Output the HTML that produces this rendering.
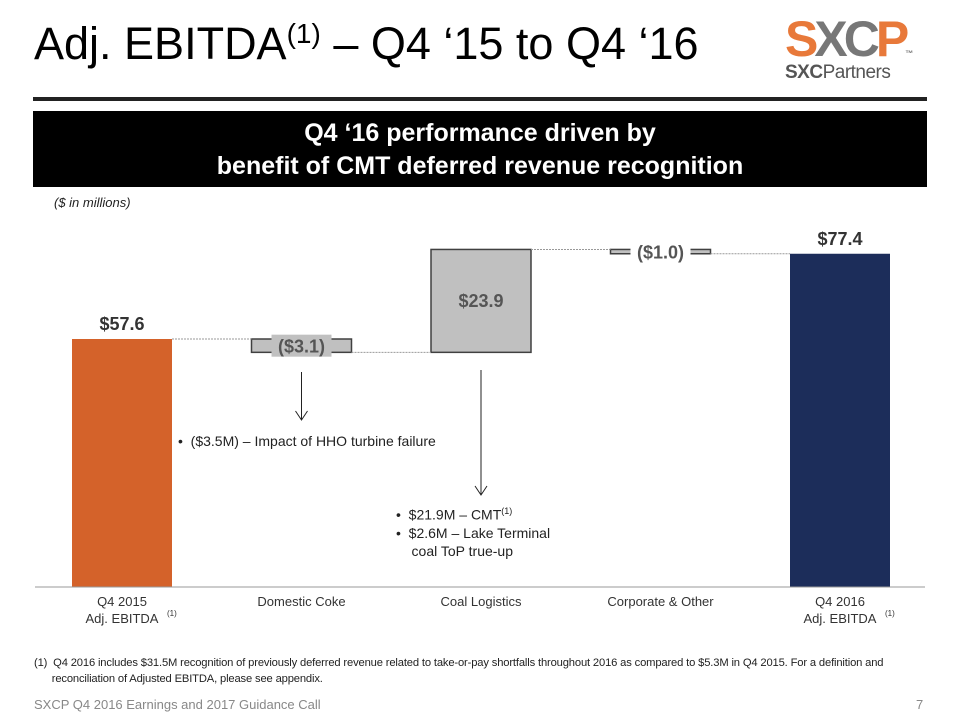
<!DOCTYPE html>
<html><head><meta charset="utf-8"><style>
body{margin:0;width:960px;height:720px;background:#fff;font-family:"Liberation Sans",sans-serif;position:relative;overflow:hidden}
.abs{position:absolute}
</style></head><body>
<div class="abs" style="left:34px;top:18px;font-size:45px;color:#000;white-space:nowrap">Adj. EBITDA<sup style="font-size:28px">(1)</sup> – Q4 ‘15 to Q4 ‘16</div>
<div class="abs" style="left:785px;top:14px;width:140px;height:70px">
 <div class="abs" style="left:0;top:0;font-size:50px;font-weight:bold;letter-spacing:-4px;line-height:50px;white-space:nowrap"><span style="color:#e8793a">S</span><span style="color:#777">X</span><span style="color:#777">C</span><span style="color:#e8793a">P</span><span style="font-size:8px;color:#777;letter-spacing:0">™</span></div>
 <div class="abs" style="left:0;top:48px;font-size:19px;line-height:22px;font-weight:bold;color:#555;letter-spacing:-0.5px;white-space:nowrap">SXC<span style="font-weight:normal">Partners</span></div>
</div>
<div class="abs" style="left:33px;top:97px;width:894px;height:4px;background:#222"></div>
<div class="abs" style="left:33px;top:111px;width:894px;height:76px;background:#000;color:#fff;font-weight:bold;font-size:25px;text-align:center;line-height:33px;padding-top:6px;box-sizing:border-box">Q4 ‘16 performance driven by<br>benefit of CMT deferred revenue recognition</div>
<div class="abs" style="left:54px;top:195px;font-size:13px;font-style:italic;color:#222">($ in millions)</div>
<svg class="abs" style="left:0;top:0" width="960" height="720" id="chart"></svg>
<div class="abs" style="left:178px;top:433px;font-size:14px;color:#222">•&nbsp;&nbsp;($3.5M) – Impact of HHO turbine failure</div>
<div class="abs" style="left:396px;top:502px;font-size:14px;color:#222;line-height:18px">•&nbsp;&nbsp;$21.9M – CMT<sup style="font-size:9px">(1)</sup><br>•&nbsp;&nbsp;$2.6M – Lake Terminal<br>&nbsp;&nbsp;&nbsp;&nbsp;coal ToP true-up</div>
<div class="abs" style="left:34px;top:655px;font-size:11.2px;color:#222;line-height:16px;width:920px;white-space:nowrap;letter-spacing:-0.15px">(1)&nbsp; Q4 2016 includes $31.5M recognition of previously deferred revenue related to take-or-pay shortfalls throughout 2016 as compared to $5.3M in Q4 2015. For a definition and<br>&nbsp;&nbsp;&nbsp;&nbsp;&nbsp;&nbsp;reconciliation of Adjusted EBITDA, please see appendix.</div>
<div class="abs" style="left:34px;top:697px;font-size:13px;color:#888">SXCP Q4 2016 Earnings and 2017 Guidance Call</div>
<div class="abs" style="left:916px;top:697px;font-size:13px;color:#888">7</div>
<script>
const categories=["Q4 2015|Adj. EBITDA","Domestic Coke","Coal Logistics","Corporate & Other","Q4 2016|Adj. EBITDA"];
const values=[57.6,-3.1,23.9,-1.0,77.4];
const kinds=["total","delta","delta","delta","total"];
const valueLabels=["$57.6","($3.1)","$23.9","($1.0)","$77.4"];
const svg=document.getElementById('chart');const NS="http://www.w3.org/2000/svg";
const base=587,scale=248/57.6;
const y=v=>base-v*scale;
const xc=i=>122+i*179.5;
const bw=100;
function mk(t,a){const e=document.createElementNS(NS,t);for(const k in a)e.setAttribute(k,a[k]);svg.appendChild(e);return e;}
let run=0;const tops=[];
values.forEach((v,i)=>{
 let a,b;
 if(kinds[i]=="total"){a=0;b=v;run=v;}else{a=run;b=run+v;run=b;}
 tops.push(b);
 const y1=y(Math.max(a,b)),y2=y(Math.min(a,b));
 const fill=i==0?"#d4622a":i==4?"#1c2d5a":"#c0c0c0";
 const r=mk('rect',{x:xc(i)-bw/2,y:y1,width:bw,height:Math.max(y2-y1,1),fill:fill,stroke:kinds[i]=="total"?"none":"#404040","stroke-width":1.5});
 
 
 const isTotal=kinds[i]=="total";
 let ty,bg=false;
 if(isTotal){ty=y1-9;}else if(y2-y1>30){ty=(y1+y2)/2+6;}else{ty=(y1+y2)/2+7;bg=true;}
 if(bg){mk('rect',{x:xc(i)-30,y:(y1+y2)/2-11,width:60,height:22,fill:i==1?"#c0c0c0":"#fff"});}
 const t=mk('text',{x:xc(i),y:ty,"text-anchor":"middle","font-size":18,"font-weight":"bold",fill:isTotal?"#333":"#555","font-family":"Liberation Sans, sans-serif"});
 t.textContent=valueLabels[i];
 
 
 const parts=categories[i].split('|');
 parts.forEach((p,j)=>{const c=mk('text',{x:xc(i),y:606+j*17,"text-anchor":"middle","font-size":13,fill:"#333","font-family":"Liberation Sans, sans-serif"});c.textContent=p;
 
 });
 if(parts.length>1){const s=mk('text',{x:xc(i)+45,y:616,"font-size":8,fill:"#333"});s.textContent="(1)";}
});
for(let i=0;i<values.length-1;i++){
 const l=mk('line',{x1:xc(i)+bw/2,x2:xc(i+1)-bw/2,y1:y(tops[i]),y2:y(tops[i]),stroke:"#999","stroke-dasharray":"2,1","stroke-width":1});
 
 
}
const ax=mk('line',{x1:35,x2:925,y1:base,y2:base,stroke:"#999","stroke-width":1});


[[xc(1),372,420],[xc(2),370,495]].forEach((a,k)=>{
 mk('line',{x1:a[0],x2:a[0],y1:a[1],y2:a[2],stroke:"#222","stroke-width":1});
 const p=mk('path',{d:`M${a[0]-6},${a[2]-9} L${a[0]},${a[2]} L${a[0]+6},${a[2]-9}`,fill:"none",stroke:"#222","stroke-width":1});
 
 
});
</script>
</body></html>
